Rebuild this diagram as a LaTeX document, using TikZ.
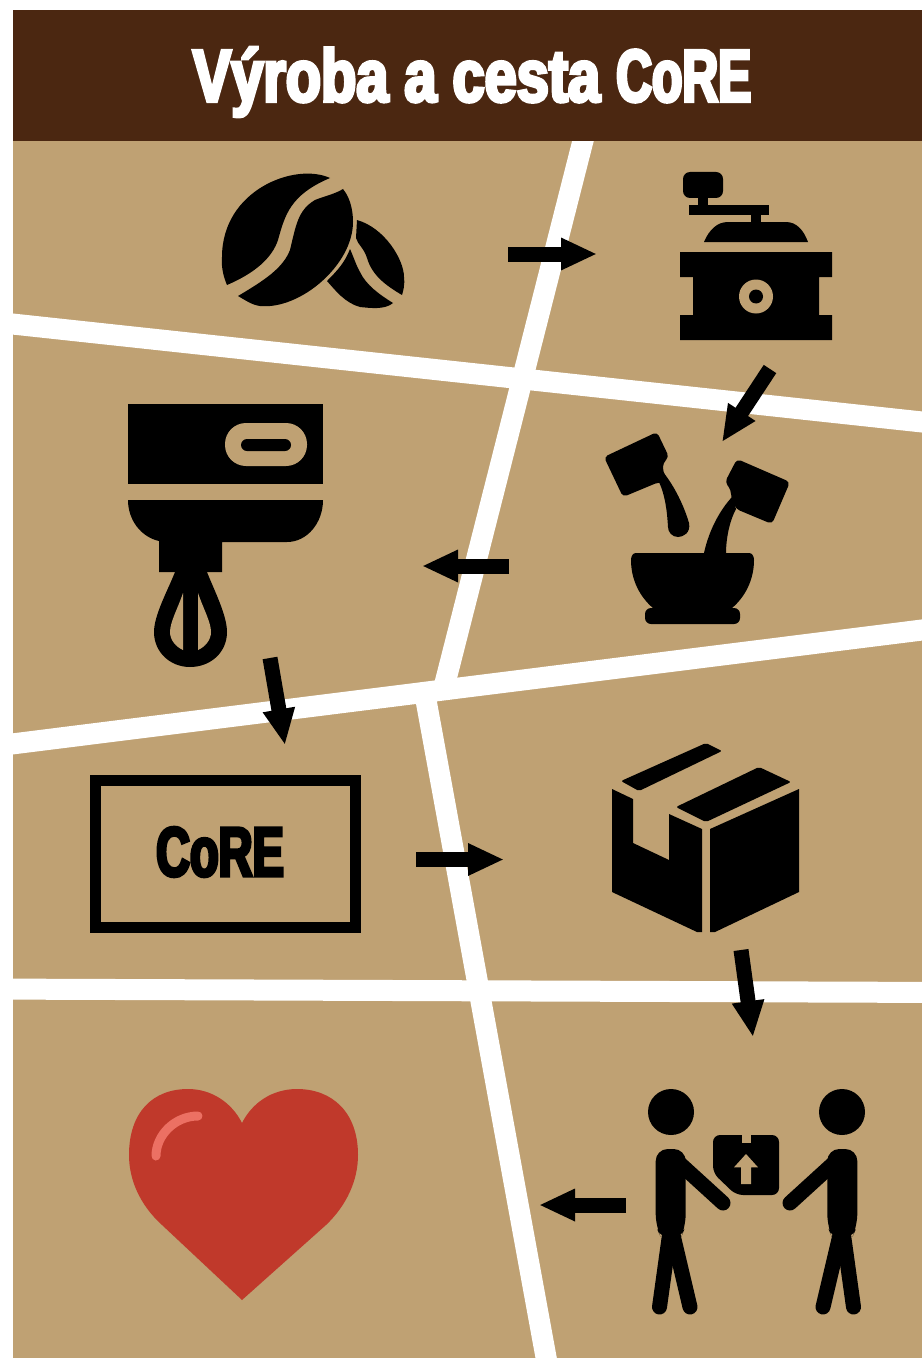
\documentclass[tikz,border=0pt]{standalone}
\usepackage{fontspec}
\usetikzlibrary{arrows.meta}
\newfontfamily\impactfont[BoldFeatures={FakeStretch=0.78,FakeBold=4.5}]{Liberation Sans}
\newfontfamily\impactnarrow[BoldFeatures={FakeStretch=0.67,FakeBold=4.5}]{Liberation Sans}
\definecolor{panelTan}{HTML}{BFA173}
\definecolor{headBrown}{HTML}{4B2711}
\definecolor{heartRed}{HTML}{C0392B}
\definecolor{heartGlow}{HTML}{EC7063}

\begin{document}
\begin{tikzpicture}[
    x=1pt, y=-1pt,
    road/.style={white, line width=21pt},
    flowarrow/.style={-{Triangle[length=36pt, width=30pt]}, line width=15pt, black},
    ink/.style={fill=black, draw=none},
    cutout/.style={fill=panelTan, draw=none},
    limb/.style={black, line width=15pt, line cap=round},
]
\useasboundingbox (0,0) rectangle (922,1359);
\fill[white] (0,0) rectangle (922,1359);
\fill[panelTan] (13,10) rectangle (922,1358);

% white cuts between the panels
\begin{scope}
    \clip (13,10) rectangle (922,1358);
    \draw[road] (602,66) -- (443,691);
    \draw[road] (424.5,692) -- (552,1390);
    \draw[road] (-20,320.5) -- (950,425);
    \draw[road] (-20,748) -- (950,626.5);
    \draw[road] (-20,989) -- (950,992.5);
\end{scope}

\fill[headBrown] (13,10) rectangle (922,141);
\node[text=white, font=\bfseries\fontsize{74}{74}\selectfont, inner sep=0pt] (title) at (472,82) {\impactfont\bfseries Výroba a cesta \impactnarrow\bfseries CoRE};

% beans
\fill[ink] (330,178) .. controls (295,162) and (222,190) .. (222,257) .. controls (221,268) and (224,278) .. (227,285) .. controls (255,273) and (272,258) .. (278,240) .. controls (285,215) and (290,195) .. (330,178) -- cycle;
\fill[ink] (343,189) .. controls (352,200) and (353,215) .. (353,222) .. controls (353,265) and (300,310) .. (260,306) .. controls (252,305) and (245,300) .. (238,296) .. controls (265,280) and (283,268) .. (290,250) .. controls (296,225) and (298,210) .. (315,200) .. controls (325,196) and (335,194) .. (343,189) -- cycle;
\fill[ink] (357,220) .. controls (385,228) and (404,260) .. (404,277) .. controls (405,285) and (403,292) .. (402,295) .. controls (385,285) and (372,275) .. (367,258) .. controls (364,248) and (358,245) .. (356,238) -- cycle;
\fill[ink] (350,249) .. controls (354,258) and (356,265) .. (360,272) .. controls (366,285) and (380,295) .. (393,303) .. controls (385,310) and (370,308) .. (360,307) .. controls (345,303) and (335,290) .. (327,281) .. controls (338,270) and (345,262) .. (350,249) -- cycle;

% grinder
\fill[ink, rounded corners=7pt] (683,172) rectangle (723,198);
\fill[ink] (698,198) rectangle (708,207);
\fill[ink] (689,205) rectangle (769,215);
\fill[ink] (751,215) rectangle (761,223);
\fill[ink] (704,242) .. controls (709,230) and (717,222) .. (728,222) -- (786,222) .. controls (797,222) and (804,231) .. (808,242) -- cycle;
\fill[ink] (680,252) -- (832,252) -- (832,277) -- (819,277) -- (819,315) -- (832,315) -- (832,340) -- (680,340) -- (680,315) -- (693,315) -- (693,277) -- (680,277) -- cycle;
\fill[cutout] (756,296.5) circle (17);
\fill[ink] (756,296.5) circle (7);

% two packets and the bowl
\fill[ink, rounded corners=4pt] (604,457) -- (657,432) -- (669,457) -- (663,463) -- (663,472) -- (672,486) -- (659,482) -- (623,497) -- cycle;
\fill[ink] (663,472) .. controls (675,487) and (684,506) .. (689,523) .. controls (691,533) and (683,537) .. (678,537) .. controls (672,537) and (668,532) .. (668,527) .. controls (667,510) and (665,495) .. (659,482) -- cycle;
\fill[ink, rounded corners=4pt] (737,459) -- (790,482) -- (772,524) -- (736,509) -- (731,497) -- (731,490) -- (725,482) -- cycle;
\fill[ink] (732,497) .. controls (720,510) and (709,530) .. (704,553) -- (726,553) .. controls (726,540) and (729,522) .. (736,509) -- cycle;
\fill[ink] (636,553) -- (749,553) .. controls (752,553) and (754,556) .. (754,560) .. controls (754,580) and (745,597) .. (732,608) -- (653,608) .. controls (640,597) and (631,580) .. (631,560) .. controls (631,556) and (633,553) .. (636,553) -- cycle;
\fill[ink, rounded corners=6pt] (645,608) rectangle (740,624);

% mixer
\fill[ink] (128,404) rectangle (323,484);
\fill[cutout, rounded corners=21pt] (225,423) rectangle (307,466);
\fill[ink, rounded corners=6pt] (241,439) rectangle (291,451);
\fill[ink] (128,500) -- (323,500) .. controls (323,523) and (307,542) .. (287,542) -- (222,542) -- (222,572) -- (159,572) -- (159,541) .. controls (141,537) and (128,520) .. (128,500) -- cycle;
\fill[ink] (175,572) .. controls (168,590) and (154,615) .. (154,632) .. controls (154,652) and (170,667) .. (190,667) .. controls (211,667) and (227,652) .. (227,632) .. controls (227,615) and (214,590) .. (207,572) -- cycle;
\fill[cutout] (183,593) .. controls (178,608) and (170,622) .. (170,632) .. controls (170,640) and (176,647) .. (183,650) -- cycle;
\fill[cutout] (198,593) .. controls (203,608) and (211,622) .. (211,632) .. controls (211,640) and (205,647) .. (198,650) -- cycle;

% box with the product name
\node[draw=black, line width=11pt, minimum width=260pt, minimum height=147pt, inner sep=0pt] (corebox) at (225.5,854) {};
\node[text=black, font=\impactnarrow\bfseries\fontsize{70}{70}\selectfont, inner sep=0pt] (corelabel) at (220,852) {CoRE};

% parcel
\fill[ink, rounded corners=2pt] (621,781) -- (706,743) -- (722,751) -- (639,791) -- cycle;
\fill[ink, rounded corners=2pt] (676,807) -- (759,767) -- (791,782) -- (706,822) -- cycle;
\fill[ink] (612,789) -- (633,799) -- (633,843) -- (669,860) -- (669,814) -- (702,829) -- (702,932) -- (697,932) -- (612,892) -- cycle;
\fill[ink] (710,829) -- (799,789) -- (799,892) -- (715,932) -- (710,932) -- cycle;

% handover
\foreach \flip/\shift in {1/0, -1/1513} {
    \begin{scope}[xshift=\shift pt, xscale=\flip]
        \fill[ink] (671,1112) circle (23);
        \fill[ink, rounded corners=12pt] (655.7,1149) -- (685.7,1149) -- (685.7,1226) -- (680,1240) -- (662,1240) -- (655.7,1226) -- cycle;
        \draw[limb] (678,1162) -- (723,1203);
        \draw[limb] (669.5,1235) -- (659.5,1307);
        \draw[limb] (673,1235) -- (690,1307);
    \end{scope}
}
\fill[ink, rounded corners=7pt] (713,1135) -- (779,1135) -- (779,1195) -- (736,1195) -- (713,1173) -- cycle;
\fill[cutout] (742.3,1135) rectangle (750.7,1143);
\fill[cutout] (746,1154) -- (758,1167.3) -- (751,1167.3) -- (751,1184) -- (741,1184) -- (741,1167.3) -- (734,1167.3) -- cycle;

% heart
\fill[heartRed] (242,1300) -- (162,1225) .. controls (140,1205) and (129,1180) .. (129,1155) .. controls (129,1112) and (153,1089) .. (188,1089) .. controls (212,1089) and (232,1103) .. (242,1123) .. controls (252,1103) and (272,1089) .. (297,1089) .. controls (332,1089) and (358,1112) .. (358,1155) .. controls (358,1180) and (347,1205) .. (326,1225) -- cycle;
\draw[heartGlow, line width=9pt, line cap=round] (156,1156) .. controls (156,1135) and (175,1116) .. (198,1116);

% arrows from one step to the next
\coordinate (beansOut) at (508,254);
\coordinate (grinderIn) at (597,254);
\coordinate (grinderOut) at (770,369);
\coordinate (bowlIn) at (722,442);
\coordinate (bowlOut) at (509,566);
\coordinate (mixerIn) at (422,566);
\coordinate (mixerOut) at (270,658);
\coordinate (coreIn) at (285,745);
\coordinate (coreOut) at (416,859.5);
\coordinate (parcelIn) at (504,859.5);
\coordinate (parcelOut) at (741,950);
\coordinate (handoverIn) at (753,1037);
\coordinate (handoverOut) at (626,1205);
\coordinate (heartIn) at (539,1205);
\draw[flowarrow] (beansOut) -- (grinderIn);
\draw[flowarrow] (grinderOut) -- (bowlIn);
\draw[flowarrow] (bowlOut) -- (mixerIn);
\draw[flowarrow] (mixerOut) -- (coreIn);
\draw[flowarrow] (coreOut) -- (parcelIn);
\draw[flowarrow] (parcelOut) -- (handoverIn);
\draw[flowarrow] (handoverOut) -- (heartIn);
\end{tikzpicture}
\end{document}
